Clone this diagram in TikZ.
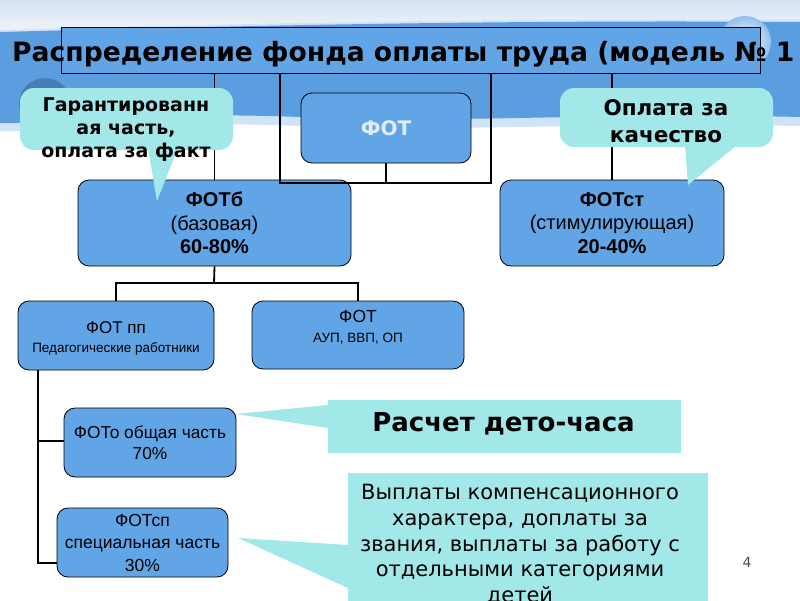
\documentclass[tikz,border=0pt]{standalone}
\usepackage{fontspec}
\setmainfont{DejaVu Sans}
\newfontfamily\arialfont{Liberation Sans}
\usepackage{xcolor}
\definecolor{Col1}{RGB}{98,165,230}
\definecolor{Col2}{RGB}{162,232,232}
\definecolor{Col3}{RGB}{90,158,224}
\definecolor{Col4}{RGB}{214,226,240}
\usepackage{tikz}
\tikzstyle{Box}=[draw=black,fill=Col1,rounded corners=11pt,line width=0.8pt,
  inner sep=0pt,align=center]
\tikzstyle{Call}=[fill=Col2,inner sep=0pt]
\tikzstyle{Edge}=[draw=black,line width=1.8pt]
\tikzstyle{BoxText}=[align=center,inner sep=0pt]

\begin{document}
\begin{tikzpicture}[x=1pt,y=-1pt]
        \useasboundingbox (0,0) rectangle (800,600);
        \clip (0,0) rectangle (800,600);
        % background
        \fill[white] (0,0) rectangle (800,600);
        \shade[top color=Col4,bottom color=white!85!Col4] (0,0) rectangle (800,45);
        \fill[white!70!Col1] (0,30) .. controls (300,22) and (550,18) .. (800,20)
          -- (800,126) .. controls (600,122) and (450,132) .. (300,126)
          .. controls (150,120) and (60,132) .. (0,131) -- cycle;
        \fill[Col3] (0,32) .. controls (300,24) and (550,20) .. (800,22)
          -- (800,117) .. controls (600,112) and (450,124) .. (300,117)
          .. controls (150,111) and (60,124) .. (0,123) -- cycle;
        \fill[Col3!80!black] (45,104) circle (26);
        \shade[inner color=white,outer color=Col1!70] (745,42) circle (26);
        % title
        \node[draw=black,fill=Col1,line width=0.8pt,minimum width=699,
          minimum height=46,inner sep=0pt](0)at(410.5,50){};
        \node[anchor=base west,inner sep=0pt,font=\bfseries\fontsize{26.6}{30}\selectfont]
          (0t)at(12,61){Распределение фонда оплаты труда (модель № 1};
        % first level
        \node[Box,minimum width=170,minimum height=70,
          font=\bfseries\fontsize{20}{24}\selectfont,text=white!80!Col1](1)at(386,128){ФОТ};
        \node[Box,minimum width=273,minimum height=86,
          font=\arialfont\fontsize{20}{23.5}\selectfont](2)at(214.5,223)
          {\textbf{ФОТб}\\(базовая)\\\textbf{60-80\%}};
        \node[Box,minimum width=224,minimum height=86,
          font=\arialfont\fontsize{20}{23.5}\selectfont](3)at(612,223)
          {\textbf{ФОТст}\\(стимулирующая)\\\textbf{20-40\%}};
        \coordinate(a1)at(280,183);
        \coordinate(a2)at(491,183);
        \draw[Edge](0.south-|2.north)--(2.north);
        \draw[Edge](0.south-|3.north)--(3.north);
        \draw[Edge](0.south-|a1)--(a1)--(a2)--(0.south-|a2);
        \draw[Edge](1.south)--(1.south|-a1);
        % second level
        \node[Box,minimum width=196,minimum height=69](4)at(116,335.5){};
        \node[BoxText,font=\arialfont\fontsize{17}{19}\selectfont](4t)at(116,338)
          {ФОТ пп\\{\fontsize{13.5}{15}\selectfont Педагогические работники}};
        \node[Box,minimum width=212,minimum height=68](5)at(358,335){};
        \node[BoxText,font=\arialfont\fontsize{17.5}{20}\selectfont](5t)at(358,327)
          {ФОТ\\{\fontsize{13.5}{15}\selectfont АУП, ВВП, ОП}};
        \coordinate(b0)at(214,283);
        \coordinate(b1)at(116,283);
        \coordinate(b2)at(358,283);
        \draw[Edge](2.south)--(b0);
        \draw[Edge](4.north)--(b1)--(b2)--(5.north);
        % third level
        \node[Box,minimum width=172,minimum height=69,
          font=\arialfont\fontsize{17.3}{20.5}\selectfont](6)at(150,442.5)
          {ФОТо общая часть\\70\%};
        \node[Box,minimum width=171,minimum height=69,
          font=\arialfont\fontsize{17.5}{22.5}\selectfont](7)at(142.5,542.5)
          {ФОТсп\\специальная часть\\30\%};
        \coordinate(c0)at(38,370);
        \coordinate(c1)at(38,441);
        \coordinate(c2)at(38,563);
        \draw[Edge](c0)--(c2)--(7.west|-c2);
        \draw[Edge](c1)--(6.west|-c1);
        % callouts
        \node[Call,rounded corners=14pt,minimum width=213,minimum height=62](8)at(126.5,119){};
        \fill[Col2](148,148)--(178,148)--(157,201)--cycle;
        \node[BoxText,font=\bfseries\fontsize{19}{23}\selectfont](8t)at(126,130)
          {Гарантированн\\ая часть,\\оплата за факт};
        \node[Call,rounded corners=14pt,minimum width=213,minimum height=59](9)at(666.5,117.5){};
        \fill[Col2](685,145)--(737,145)--(688,185)--cycle;
        \node[BoxText,font=\bfseries\fontsize{21.5}{27}\selectfont](9t)at(666,121.5)
          {Оплата за\\качество};
        \node[Call,minimum width=353,minimum height=53](10)at(504.5,426.5){};
        \fill[Col2](236,414)--(328,405)--(328,428)--cycle;
        \node[anchor=base,inner sep=0pt,font=\bfseries\fontsize{26}{30}\selectfont]
          (10t)at(503.5,431.5){Расчет дето-часа};
        \node[Call,minimum width=360,minimum height=147](11)at(528,546.5){};
        \fill[Col2](238,538)--(348,545)--(348,588)--cycle;
        \node[anchor=north,BoxText,font=\fontsize{21}{25.8}\selectfont](11t)at(520,484)
          {Выплаты компенсационного\\характера, доплаты за\\звания, выплаты за работу с\\отдельными категориями\\детей};
        \node[font=\rmfamily\fontsize{14}{16}\selectfont,text=black!70](12)at(747,562){4};
    \end{tikzpicture}
\end{document}
